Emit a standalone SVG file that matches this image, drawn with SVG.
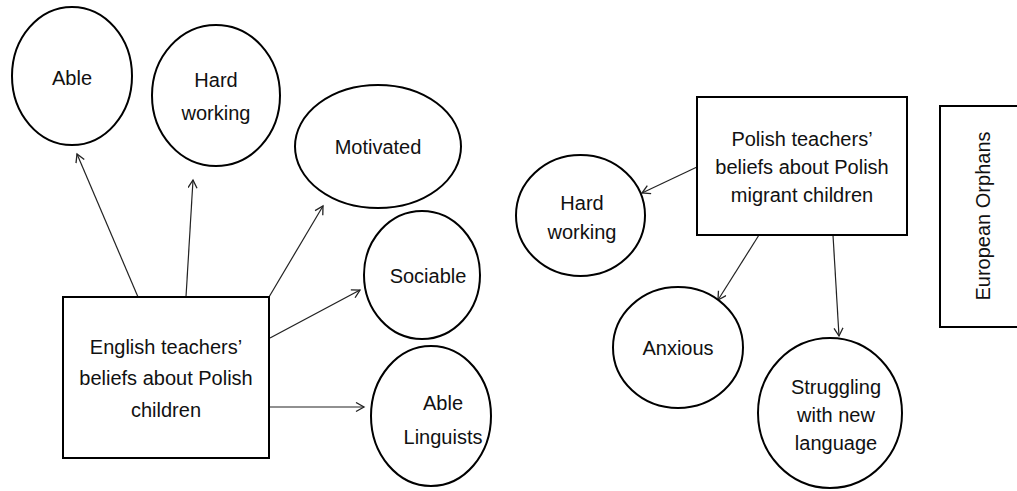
<svg xmlns="http://www.w3.org/2000/svg" width="1017" height="491" viewBox="0 0 1017 491">
<style>
.n{fill:#fff;stroke:#000;stroke-width:2}
.t{font-family:"Liberation Sans",Arial,sans-serif;font-size:20px;fill:#111;text-anchor:middle;dominant-baseline:central}
.c{stroke:#222;stroke-width:1.2;fill:none;marker-end:url(#ah)}
</style>
<defs>
<marker id="ah" markerUnits="userSpaceOnUse" markerWidth="12" markerHeight="12" refX="9" refY="5" orient="auto">
<path d="M1,0.5 L9,5 L1,9.5" fill="none" stroke="#222" stroke-width="1.3"/>
</marker>
</defs>
<rect width="1017" height="491" fill="#fff"/>
<g id="connectors">
<line class="c" x1="138" y1="297" x2="77" y2="154"/>
<line class="c" x1="186" y1="297" x2="193" y2="180"/>
<line class="c" x1="269" y1="297" x2="323" y2="206"/>
<line class="c" x1="270" y1="338" x2="360" y2="290"/>
<line class="c" x1="269" y1="407" x2="364" y2="407"/>
<line class="c" x1="697" y1="167" x2="642" y2="193"/>
<line class="c" x1="759" y1="235" x2="718" y2="300"/>
<line class="c" x1="833" y1="235" x2="839" y2="336"/>
</g>
<g id="able"><ellipse class="n" cx="72" cy="76" rx="60" ry="69"/><text class="t" x="72" y="78">Able</text></g>
<g id="hardworking1"><ellipse class="n" cx="216" cy="95.5" rx="64" ry="70.5"/><text class="t" x="216" y="80">Hard</text><text class="t" x="216" y="113">working</text></g>
<g id="motivated"><ellipse class="n" cx="378" cy="146.5" rx="83" ry="61.5"/><text class="t" x="378" y="147">Motivated</text></g>
<g id="sociable"><ellipse class="n" cx="422" cy="275" rx="58" ry="64"/><text class="t" x="428" y="276">Sociable</text></g>
<g id="ablelinguists"><ellipse class="n" cx="431" cy="416" rx="60" ry="70"/><text class="t" x="443" y="403">Able</text><text class="t" x="443" y="437">Linguists</text></g>
<g id="english"><rect class="n" x="63" y="297" width="206" height="161"/><text class="t" x="166" y="347">English teachers’</text><text class="t" x="166" y="378">beliefs about Polish</text><text class="t" x="166" y="410">children</text></g>
<g id="polish"><rect class="n" x="697" y="97" width="210" height="138"/><text class="t" x="802" y="139">Polish teachers’</text><text class="t" x="802" y="167">beliefs about Polish</text><text class="t" x="802" y="195">migrant children</text></g>
<g id="hardworking2"><ellipse class="n" cx="580.5" cy="215.5" rx="64.5" ry="60.5"/><text class="t" x="582" y="203">Hard</text><text class="t" x="582" y="232">working</text></g>
<g id="anxious"><ellipse class="n" cx="678" cy="347.5" rx="65" ry="60.5"/><text class="t" x="678" y="348">Anxious</text></g>
<g id="struggling"><ellipse class="n" cx="830" cy="413" rx="72" ry="75"/><text class="t" x="836" y="387">Struggling</text><text class="t" x="836" y="415">with new</text><text class="t" x="836" y="443">language</text></g>
<g id="european"><rect class="n" x="940" y="106" width="90" height="221"/><text class="t" transform="translate(983,216) rotate(-90)" x="0" y="0">European Orphans</text></g>
</svg>
